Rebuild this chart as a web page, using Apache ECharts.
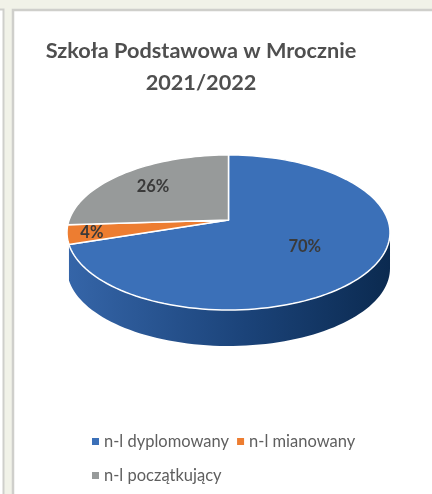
<!DOCTYPE html>
<html><head><meta charset="utf-8">
<style>html,body{margin:0;padding:0;background:#fff}#c{width:432px;height:494px}</style>
<script src="https://cdn.jsdelivr.net/npm/echarts@6/dist/echarts.min.js"></script>
</head><body><div id="c"></div>
<script>
const categories = ['n-l dyplomowany', 'n-l mianowany', 'n-l początkujący'];
const values = [70, 4, 26];
const sliceColors = ['#3b70b8', '#ed7d31', '#979a9a'];
const titleLines = ['Szkoła Podstawowa w Mrocznie', '2021/2022'];

// perspective view of the disc
const view = {cx: 228.5, cy: 220, A: 159.4, B: 75.5, k: 0.161, depth: 36};
const labelRadius = [0.56, 0.85, 0.7];
const total = values.reduce((a, b) => a + b, 0);
function project(deg, r) {
  const t = deg * Math.PI / 180, u = r * Math.sin(t), v = -r * Math.cos(t), d = 1 - view.k * v;
  return [view.cx + view.A * u / d, view.cy + view.B * v / d];
}
function arc(a0, a1, dy) {
  const pts = [], n = Math.max(2, Math.ceil(Math.abs(a1 - a0) / 2));
  for (let i = 0; i <= n; i++) {
    const p = project(a0 + (a1 - a0) * i / n, 1);
    pts.push([p[0], p[1] + (dy || 0)]);
  }
  return pts;
}
let acc = 0;
const spans = values.map(v => { const s = [acc, acc + v / total * 360]; acc = s[1]; return s; });

const wallStart = 99.3;
const wallSeries = {
  type: 'custom', silent: true, coordinateSystem: 'none', data: [0], z: 1,
  renderItem: () => ({
    type: 'polygon', silent: true,
    shape: {points: arc(wallStart, spans[0][1]).concat(arc(spans[0][1], wallStart, view.depth))},
    style: {fill: new echarts.graphic.LinearGradient(1, 0, 0, 0, [
      {offset: 0, color: '#0b2a50'}, {offset: 0.45, color: '#1b4379'},
      {offset: 1, color: '#3565a8'}])}
  })
};
const sliceSeries = categories.map((name, i) => ({
  type: 'custom', name, coordinateSystem: 'none', data: [values[i]], z: 2,
  itemStyle: {color: sliceColors[i]},
  renderItem: () => {
    const [a0, a1] = spans[i], lp = project((a0 + a1) / 2, labelRadius[i]);
    return {type: 'group', children: [
      {type: 'polygon', shape: {points: [project(0, 0)].concat(arc(a0, a1))},
       style: {fill: sliceColors[i], stroke: '#fff', lineWidth: 1.5, lineJoin: 'round'}},
      {type: 'text', z2: 10, x: lp[0], y: lp[1], style: {
        text: values[i] + '%', fill: '#3a3a3a', font: 'bold 16.5px Lato',
        align: 'center', verticalAlign: 'middle'}}
    ]};
  }
}));

const legendText = {color: '#5f5f5f', fontFamily: 'Lato', fontSize: 16.5};
const chart = echarts.init(document.getElementById('c'), null, {renderer: 'canvas'});
chart.setOption({
  animation: false,
  backgroundColor: '#ffffff',
  title: {
    text: titleLines.join('\n'), left: 196, top: 30, textAlign: 'center',
    textStyle: {fontFamily: 'Lato', fontWeight: 'bold', fontSize: 21.7, lineHeight: 32, color: '#4f4f4f'}
  },
  legend: [
    {data: categories.slice(0, 2), left: 92, top: 433, itemWidth: 7, itemHeight: 7, itemGap: 8,
     icon: 'rect', selectedMode: false, textStyle: legendText, padding: 0},
    {data: categories.slice(2), left: 92, top: 467, itemWidth: 7, itemHeight: 7, itemGap: 8,
     icon: 'rect', selectedMode: false, textStyle: legendText, padding: 0}
  ],
  graphic: [
    {type: 'rect', silent: true, z: -10, shape: {x: 0, y: 0, width: 432, height: 494}, style: {fill: '#f1f2e8'}},
    {type: 'rect', silent: true, z: -9, shape: {x: -10, y: 9.5, width: 13.5, height: 500},
     style: {fill: '#ffffff', stroke: '#cfcfcb', lineWidth: 2}},
    {type: 'rect', silent: true, z: -9, shape: {x: 13, y: 10, width: 430, height: 500},
     style: {fill: '#ffffff', stroke: '#cfcfcb', lineWidth: 2.5}}
  ],
  series: [wallSeries].concat(sliceSeries)
});
</script></body></html>
